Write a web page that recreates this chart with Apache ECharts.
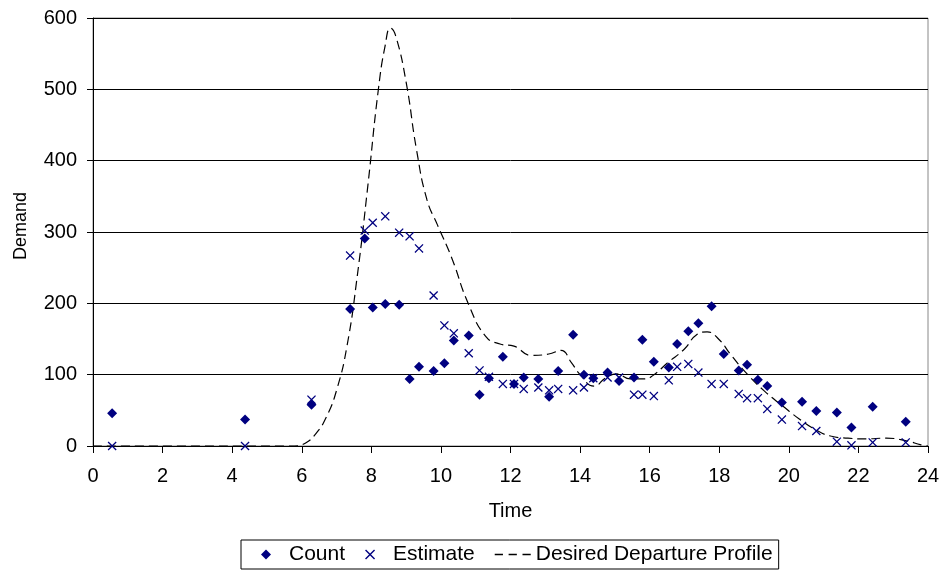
<!DOCTYPE html>
<html>
<head>
<meta charset="utf-8">
<script src="https://cdn.jsdelivr.net/npm/echarts@6/dist/echarts.min.js"></script>
<style>
  html, body { margin: 0; padding: 0; background: #fff; }
  #chart { width: 944px; height: 576px; }
</style>
</head>
<body>
<div id="chart"></div>
<script>
// data
var times = [0.55, 4.37, 6.28, 7.39, 7.81, 8.04, 8.40, 8.80, 9.10, 9.37, 9.79, 10.10, 10.37, 10.80, 11.11, 11.38, 11.78, 12.10, 12.38, 12.80, 13.11, 13.37, 13.80, 14.11, 14.38, 14.79, 15.12, 15.55, 15.79, 16.12, 16.55, 16.79, 17.11, 17.40, 17.78, 18.13, 18.56, 18.80, 19.11, 19.38, 19.80, 20.38, 20.79, 21.38, 21.80, 22.41, 23.36];
var count = [46, 37, 58, 192, 291, 194, 199, 198, 94, 111, 105, 116, 148, 155, 72, 95, 125, 87, 96, 94, 69, 105, 156, 100, 95, 103, 91, 96, 149, 118, 110, 143, 161, 172, 196, 129, 106, 114, 93, 84, 61, 62, 49, 47, 26, 55, 34];
var estimate = [0, 0, 65, 267, 302, 313, 322, 299, 294, 277, 211, 169, 158, 130, 106, 97, 87, 87, 80, 82, 78, 80, 78, 82, 95, 96, 96, 72, 72, 70, 92, 111, 115, 103, 87, 87, 73, 67, 67, 52, 37, 28, 21, 6, 1, 5, 5];

// desired departure profile (dashed curve)
var profTime = [0, 5.8, 6.1, 6.4, 6.7, 7.0, 7.3, 7.6, 7.9, 8.2, 8.4, 8.55, 8.7, 9.0, 9.3, 9.6, 9.9, 10.3, 10.8, 11.3, 11.7, 12.1, 12.6, 13.1, 13.45, 13.75, 14.0, 14.4, 14.75, 15.05, 15.45, 15.85, 16.1, 16.5, 17.0, 17.35, 17.65, 18.0, 18.3, 18.8, 19.3, 19.8, 20.3, 20.8, 21.2, 21.7, 22.2, 22.8, 23.4, 23.8, 24];
var profile = [0, 0, 4, 17, 40, 78, 140, 240, 365, 499, 562, 586, 575, 510, 415, 345, 310, 265, 198, 153, 143, 140, 127, 129, 134, 117, 100, 84, 96, 101, 94, 94, 99, 116, 136, 156, 160, 149, 130, 101, 77, 57, 38, 22, 14, 11, 10, 11, 7, 1.5, 0];

var NAVY = '#000080';
var FONT = 'Liberation Sans';
var diamondPath = 'path://M5,0L10,5L5,10L0,5Z';
var crossPath = 'path://M0,1L1,0L5,4L9,0L10,1L6,5L10,9L9,10L5,6L1,10L0,9L4,5Z';
var dashPath = 'path://M0,0h8v1.3h-8zM13.5,0h8v1.3h-8zM27,0h8v1.3h-8z';

function pairs(xs, ys) {
    var out = [];
    for (var i = 0; i < xs.length; i++) {
        out.push([xs[i], ys[i]]);
    }
    return out;
}

var chart = echarts.init(document.getElementById('chart'));
chart.setOption({
    animation: false,
    textStyle: {fontFamily: FONT},
    grid: {
        left: 93, right: 16, top: 18, bottom: 130,
        show: true, borderColor: '#888', borderWidth: 1
    },
    xAxis: {
        type: 'value', min: 0, max: 24, interval: 2,
        name: 'Time', nameLocation: 'middle', nameGap: 55,
        nameTextStyle: {fontSize: 20, color: '#000', fontFamily: FONT},
        axisLine: {lineStyle: {color: '#000', width: 1}},
        axisTick: {show: true, length: 7, lineStyle: {color: '#000'}},
        axisLabel: {fontSize: 20, color: '#000', margin: 20, fontFamily: FONT},
        splitLine: {show: false}
    },
    yAxis: {
        type: 'value', min: 0, max: 600, interval: 100,
        name: 'Demand', nameLocation: 'middle', nameGap: 63,
        nameTextStyle: {fontSize: 18, color: '#000', fontFamily: FONT, padding: [0, 0, 0, 12]},
        axisLine: {show: true, lineStyle: {color: '#000', width: 1}},
        axisTick: {show: true, length: 6, lineStyle: {color: '#000'}},
        axisLabel: {fontSize: 20, color: '#000', margin: 16, fontFamily: FONT},
        splitLine: {show: true, lineStyle: {color: '#000', width: 1}}
    },
    legend: {
        left: 241, top: 540,
        padding: [4, 6, 4, 20],
        borderColor: '#000', borderWidth: 1,
        itemGap: 20,
        itemWidth: 36, itemHeight: 10,
        textStyle: {fontSize: 21, color: '#000', fontFamily: FONT},
        data: [
            {name: 'Count', icon: diamondPath},
            {name: 'Estimate', icon: crossPath},
            {name: 'Desired Departure Profile', icon: dashPath}
        ]
    },
    series: [
        {
            name: 'Count', type: 'scatter',
            symbol: diamondPath, symbolSize: 10,
            itemStyle: {color: NAVY, opacity: 1},
            data: pairs(times, count), z: 3
        },
        {
            name: 'Estimate', type: 'scatter',
            symbol: crossPath, symbolSize: 9,
            itemStyle: {color: NAVY, opacity: 1},
            data: pairs(times, estimate), z: 4
        },
        {
            name: 'Desired Departure Profile', type: 'line',
            smooth: 0.5,
            showSymbol: false, symbol: 'none',
            itemStyle: {color: '#000'},
            lineStyle: {color: '#000', width: 1.2, type: [9, 5]},
            data: pairs(profTime, profile), z: 2
        }
    ]
});
</script>
</body>
</html>
